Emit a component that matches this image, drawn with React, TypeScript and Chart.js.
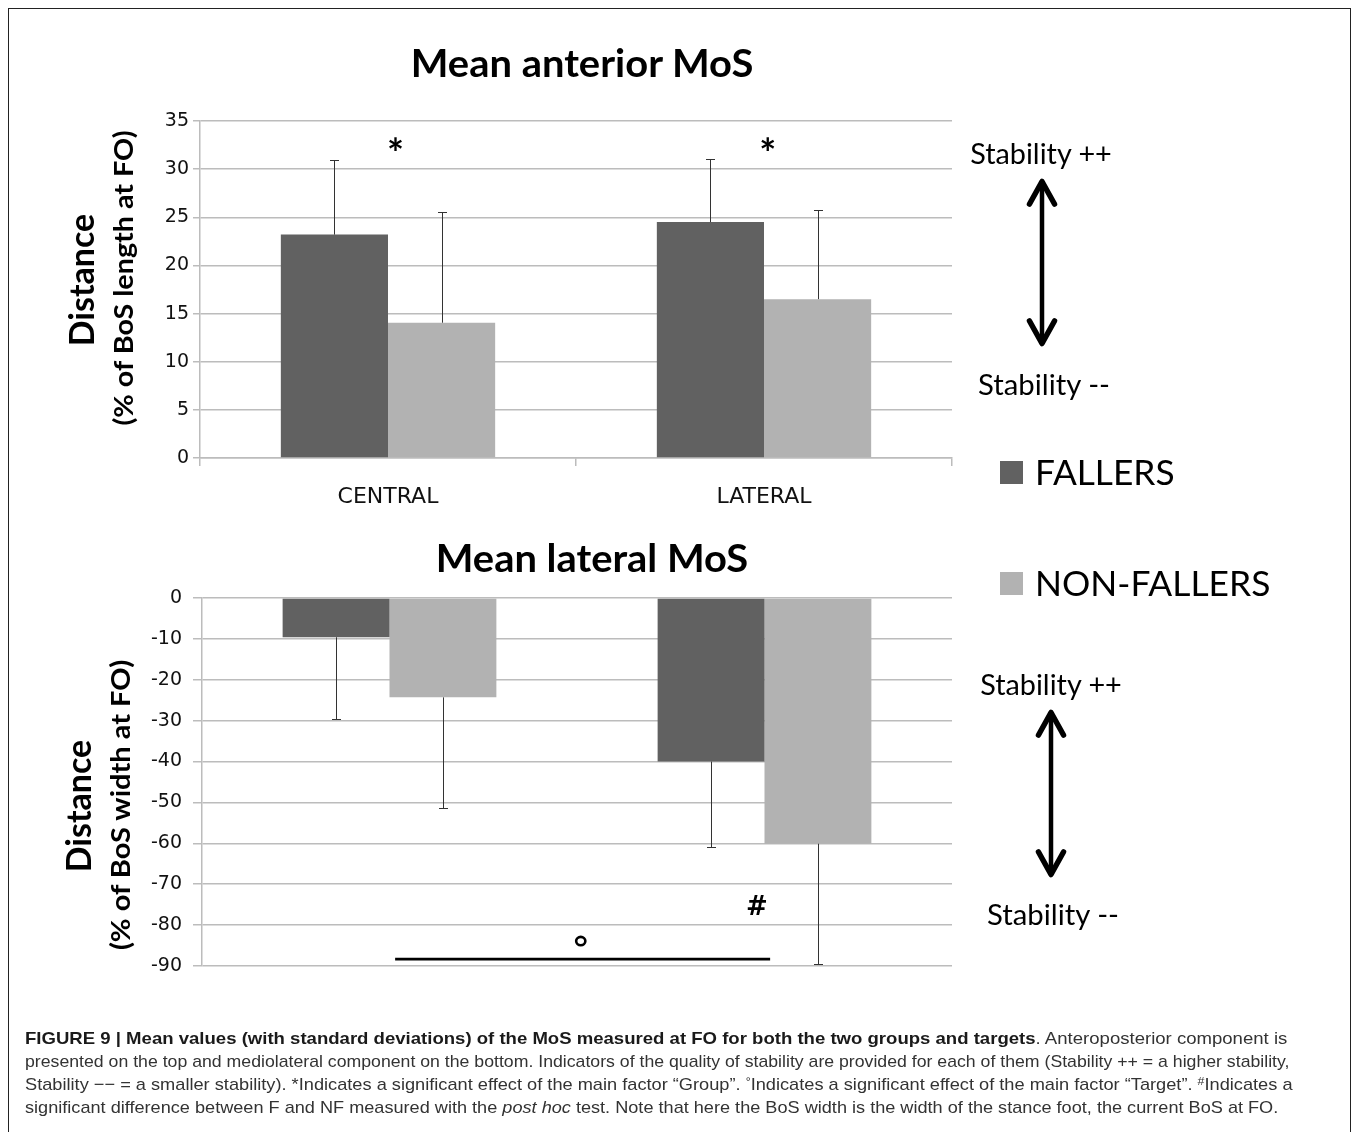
import React, { useEffect, useLayoutEffect, useRef } from "react";
import { Chart, registerables } from "chart.js";

Chart.register(...registerables);

// ---------------- data ----------------
const categories = ["CENTRAL", "LATERAL"];
const seriesLabels = ["FALLERS", "NON-FALLERS"];
const seriesColors = ["#616161", "#b2b2b2"];

const anteriorTitle = "Mean anterior MoS";
const anteriorAxisTitle = ["Distance", "(% of BoS length at FO)"];
const anteriorFallers = [23.2, 24.5];
const anteriorFallersSD = [7.7, 6.6];
const anteriorNonFallers = [14.05, 16.5];
const anteriorNonFallersSD = [11.45, 9.3];
const anteriorTicks = [0, 5, 10, 15, 20, 25, 30, 35];

const lateralTitle = "Mean lateral MoS";
const lateralAxisTitle = ["Distance", "(% of BoS width at FO)"];
const lateralFallers = [-9.6, -40.0];
const lateralFallersSD = [20.1, 20.8];
const lateralNonFallers = [-24.3, -60.1];
const lateralNonFallersSD = [27.0, 29.4];
const lateralTicks = [0, -10, -20, -30, -40, -50, -60, -70, -80, -90];

// significance marks (x = category index, y = axis value)
const anteriorMarks = [
  { text: "*", x: 0.02, y: 32.6 },
  { text: "*", x: 1.01, y: 32.6 },
];
const lateralMarks = [{ text: "#", x: 0.98, y: -75.1 }];
const lateralRing = { x: 0.51, y: -83.9 };
const lateralBracket = { from: 0.015, to: 1.015, y: -88.3 };

const stabilityLabels = ["Stability ++", "Stability --"];

// ---------------- helpers ----------------
type FitProps = {
  x: number;
  y: number;
  w?: number;
  align?: "center" | "left";
  rot?: boolean;
  style?: React.CSSProperties;
  children: React.ReactNode;
};

function FitText({ x, y, w, align = "center", rot = false, style, children }: FitProps) {
  const ref = useRef<HTMLDivElement>(null);
  useLayoutEffect(() => {
    const el = ref.current;
    if (!el) return;
    const natural = el.offsetWidth;
    const s = w && natural ? w / natural : 1;
    const base = align === "center" ? "translate(-50%,-50%)" : "translate(0,-50%)";
    el.style.transform = `${base}${rot ? " rotate(-90deg)" : ""} scaleX(${s})`;
    el.style.visibility = "visible";
  }, [w, align, rot]);
  return (
    <div
      ref={ref}
      style={{
        position: "absolute",
        left: x,
        top: y,
        whiteSpace: "nowrap",
        lineHeight: 1,
        transformOrigin: align === "center" ? "50% 50%" : "0 50%",
        visibility: "hidden",
        color: "#000",
        ...style,
      }}
    >
      {children}
    </div>
  );
}

type Mark = { text: string; x: number; y: number };

type ChartSpec = {
  top: number;
  height: number;
  plotLeft: number;
  plotRight: number;
  plotTop: number;
  plotBottom: number;
  fallers: number[];
  fallersSD: number[];
  nonFallers: number[];
  nonFallersSD: number[];
  ticks: number[];
  showCategories: boolean;
  tickLen: number;
  tickPad: number;
  marks: Mark[];
  markFont: string;
  ring?: { x: number; y: number };
  bracket?: { from: number; to: number; y: number };
};

const W = 1354;
const GRID = "#bcbcbc";

function BarPanel(spec: ChartSpec) {
  const ref = useRef<HTMLCanvasElement>(null);
  useEffect(() => {
    const canvas = ref.current;
    if (!canvas) return;
    const sds = [spec.fallersSD, spec.nonFallersSD];

    const errorBars = {
      id: "errorBars",
      afterDatasetsDraw(chart: any) {
        const ctx = chart.ctx;
        const ys = chart.scales.y;
        ctx.save();
        ctx.strokeStyle = "#333";
        ctx.lineWidth = 1;
        chart.data.datasets.forEach((ds: any, i: number) => {
          const meta = chart.getDatasetMeta(i);
          meta.data.forEach((bar: any, j: number) => {
            const v = ds.data[j] as number;
            const end = v + Math.sign(v) * sds[i][j];
            const px = Math.round(bar.x) + 0.5;
            const y0 = ys.getPixelForValue(v);
            const y1 = Math.round(ys.getPixelForValue(end)) + 0.5;
            ctx.beginPath();
            ctx.moveTo(px, y0);
            ctx.lineTo(px, y1);
            ctx.moveTo(px - 4.5, y1);
            ctx.lineTo(px + 4.5, y1);
            ctx.stroke();
          });
        });
        ctx.restore();
      },
    };

    const annotations = {
      id: "annotations",
      afterDraw(chart: any) {
        const { ctx } = chart;
        const xs = chart.scales.x;
        const ys = chart.scales.y;
        ctx.save();
        ctx.fillStyle = "#000";
        ctx.strokeStyle = "#000";
        ctx.textAlign = "left";
        ctx.textBaseline = "alphabetic";
        ctx.font = spec.markFont;
        spec.marks.forEach((m) => {
          const px = xs.getPixelForValue(m.x);
          const py = ys.getPixelForValue(m.y);
          const mt = ctx.measureText(m.text);
          const w = mt.actualBoundingBoxLeft + mt.actualBoundingBoxRight;
          const h = mt.actualBoundingBoxAscent + mt.actualBoundingBoxDescent;
          ctx.fillText(m.text, px - w / 2 + mt.actualBoundingBoxLeft, py + h / 2 - mt.actualBoundingBoxDescent);
        });
        if (spec.ring) {
          const px = xs.getPixelForValue(spec.ring.x);
          const py = ys.getPixelForValue(spec.ring.y);
          ctx.lineWidth = 2.6;
          ctx.beginPath();
          ctx.ellipse(px, py, 4.6, 4.2, 0, 0, Math.PI * 2);
          ctx.stroke();
        }
        if (spec.bracket) {
          const x0 = xs.getPixelForValue(spec.bracket.from);
          const x1 = xs.getPixelForValue(spec.bracket.to);
          const py = ys.getPixelForValue(spec.bracket.y);
          ctx.lineWidth = 2.8;
          ctx.beginPath();
          ctx.moveTo(x0, py);
          ctx.lineTo(x1, py);
          ctx.stroke();
        }
        ctx.restore();
      },
    };

    const xAxisHeight = spec.top + spec.height - spec.plotBottom;
    const tickVals = spec.ticks;
    const chart = new Chart(canvas, {
      type: "bar",
      data: {
        labels: categories,
        datasets: [
          {
            label: seriesLabels[0],
            data: spec.fallers,
            backgroundColor: seriesColors[0],
            borderWidth: 0,
            categoryPercentage: 0.57,
            barPercentage: 1.0,
          },
          {
            label: seriesLabels[1],
            data: spec.nonFallers,
            backgroundColor: seriesColors[1],
            borderWidth: 0,
            categoryPercentage: 0.57,
            barPercentage: 1.0,
          },
        ],
      },
      options: {
        responsive: false,
        animation: false,
        devicePixelRatio: 1,
        layout: {
          padding: {
            left: 0,
            top: spec.plotTop - spec.top,
            right: W - spec.plotRight,
            bottom: spec.showCategories ? 0 : xAxisHeight,
          },
        },
        plugins: {
          legend: { display: false },
          title: { display: false },
          tooltip: { enabled: false },
        },
        scales: {
          x: {
            display: spec.showCategories,
            offset: true,
            grid: {
              display: true,
              drawOnChartArea: false,
              drawTicks: true,
              tickLength: 8,
              offset: true,
              color: GRID,
              lineWidth: 1.5,
            },
            border: { display: true, color: GRID, width: 1.5 },
            ticks: {
              color: "#111",
              font: { family: "'DejaVu Sans'", size: 22 },
              padding: 18,
              maxRotation: 0,
              autoSkip: false,
            },
            afterFit: (scale: any) => {
              if (spec.showCategories) scale.height = xAxisHeight;
            },
          },
          y: {
            min: Math.min(...tickVals),
            max: Math.max(...tickVals),
            afterBuildTicks: (scale: any) => {
              scale.ticks = [...tickVals].sort((a, b) => a - b).map((v) => ({ value: v }));
            },
            grid: {
              color: GRID,
              lineWidth: 1.5,
              drawTicks: true,
              tickLength: spec.tickLen,
            },
            border: { display: true, color: GRID, width: 1.5 },
            ticks: {
              color: "#111",
              font: { family: "'DejaVu Sans'", size: 19 },
              padding: spec.tickPad,
            },
            afterFit: (scale: any) => {
              scale.width = spec.plotLeft;
            },
          },
        },
      } as any,
      plugins: [errorBars, annotations],
    });
    return () => chart.destroy();
  }, []);
  return (
    <canvas
      ref={ref}
      width={W}
      height={spec.height}
      style={{ position: "absolute", left: 0, top: spec.top, width: W, height: spec.height }}
    />
  );
}

function Arrow({ x, y1, y2 }: { x: number; y1: number; y2: number }) {
  const hw = 12.5;
  const hl = 24;
  return (
    <g stroke="#000" fill="none" strokeLinecap="round" strokeLinejoin="round">
      <line x1={x} y1={y1 + 3} x2={x} y2={y2 - 3} strokeWidth={4.5} />
      <polyline points={`${x - hw},${y1 + hl} ${x},${y1 + 1.5} ${x + hw},${y1 + hl}`} strokeWidth={5.5} />
      <polyline points={`${x - hw},${y2 - hl} ${x},${y2 - 1.5} ${x + hw},${y2 - hl}`} strokeWidth={5.5} />
    </g>
  );
}

const titleFont: React.CSSProperties = { fontFamily: "Lato, 'Open Sans', sans-serif", fontWeight: 700 };
const lightFont: React.CSSProperties = { fontFamily: "Lato, 'Open Sans', sans-serif", fontWeight: 400 };
const capFont: React.CSSProperties = {
  fontFamily: "'Liberation Sans', Arial, sans-serif",
  fontSize: 17,
  color: "#333",
};
const supStyle: React.CSSProperties = { fontSize: "0.68em", position: "relative", top: "-0.42em" };

export default function App() {
  return (
    <div
      style={{
        position: "fixed",
        left: 0,
        top: 0,
        width: W,
        height: 1132,
        overflow: "hidden",
        background: "#fff",
      }}
    >
      <div
        style={{
          position: "absolute",
          left: 8,
          top: 8,
          width: 1343,
          height: 1140,
          border: "1px solid #222",
          boxSizing: "border-box",
        }}
      />

      <BarPanel
        top={0}
        height={520}
        plotLeft={200}
        plotRight={952}
        plotTop={121}
        plotBottom={458}
        fallers={anteriorFallers}
        fallersSD={anteriorFallersSD}
        nonFallers={anteriorNonFallers}
        nonFallersSD={anteriorNonFallersSD}
        ticks={anteriorTicks}
        showCategories={true}
        tickLen={7}
        tickPad={4}
        marks={anteriorMarks}
        markFont="bold 40px Lato"
      />
      <BarPanel
        top={500}
        height={500}
        plotLeft={202}
        plotRight={952}
        plotTop={598}
        plotBottom={966}
        fallers={lateralFallers}
        fallersSD={lateralFallersSD}
        nonFallers={lateralNonFallers}
        nonFallersSD={lateralNonFallersSD}
        ticks={lateralTicks}
        showCategories={false}
        tickLen={9}
        tickPad={11}
        marks={lateralMarks}
        markFont="600 26px 'DejaVu Sans'"
        ring={lateralRing}
        bracket={lateralBracket}
      />

      {/* chart titles */}
      <FitText x={582} y={62} w={343} style={{ ...titleFont, fontSize: 39 }}>
        {anteriorTitle}
      </FitText>
      <FitText x={592} y={557} w={312} style={{ ...titleFont, fontSize: 39 }}>
        {lateralTitle}
      </FitText>

      {/* y axis titles */}
      <FitText x={80} y={280} w={132} rot style={{ ...titleFont, fontSize: 35 }}>
        {anteriorAxisTitle[0]}
      </FitText>
      <FitText x={123} y={278} w={295} rot style={{ ...titleFont, fontSize: 26 }}>
        {anteriorAxisTitle[1]}
      </FitText>
      <FitText x={77} y={806} w={132} rot style={{ ...titleFont, fontSize: 35 }}>
        {lateralAxisTitle[0]}
      </FitText>
      <FitText x={120} y={805} w={290} rot style={{ ...titleFont, fontSize: 26 }}>
        {lateralAxisTitle[1]}
      </FitText>

      {/* stability indicators */}
      <FitText x={1041} y={153} w={142} style={{ ...lightFont, fontSize: 28 }}>
        {stabilityLabels[0]}
      </FitText>
      <FitText x={1044} y={384} w={132} style={{ ...lightFont, fontSize: 28 }}>
        {stabilityLabels[1]}
      </FitText>
      <FitText x={1051} y={684} w={142} style={{ ...lightFont, fontSize: 28 }}>
        {stabilityLabels[0]}
      </FitText>
      <FitText x={1053} y={914} w={132} style={{ ...lightFont, fontSize: 28 }}>
        {stabilityLabels[1]}
      </FitText>
      <svg
        width={W}
        height={1132}
        style={{ position: "absolute", left: 0, top: 0, pointerEvents: "none" }}
      >
        <Arrow x={1042} y1={180} y2={345} />
        <Arrow x={1051} y1={711} y2={876} />
      </svg>

      {/* legend */}
      <div style={{ position: "absolute", left: 1000, top: 461, width: 23, height: 23, background: seriesColors[0] }} />
      <div style={{ position: "absolute", left: 1000, top: 572, width: 23, height: 23, background: seriesColors[1] }} />
      <FitText x={1035} y={472} w={140} align="left" style={{ ...lightFont, fontSize: 34 }}>
        {seriesLabels[0]}
      </FitText>
      <FitText x={1035} y={583} w={235} align="left" style={{ ...lightFont, fontSize: 34 }}>
        {seriesLabels[1]}
      </FitText>

      {/* caption */}
      <FitText x={25} y={1038} w={1262} align="left" style={capFont}>
        <b style={{ color: "#1a1a1a" }}>
          FIGURE 9 | Mean values (with standard deviations) of the MoS measured at FO for both the two groups and targets
        </b>
        . Anteroposterior component is
      </FitText>
      <FitText x={25} y={1061} w={1264} align="left" style={capFont}>
        presented on the top and mediolateral component on the bottom. Indicators of the quality of stability are provided for each of them (Stability ++ = a higher stability,
      </FitText>
      <FitText x={25} y={1084} w={1268} align="left" style={capFont}>
        Stability −− = a smaller stability). *Indicates a significant effect of the main factor “Group”.{" "}
        <span style={supStyle}>°</span>Indicates a significant effect of the main factor “Target”.{" "}
        <span style={supStyle}>#</span>Indicates a
      </FitText>
      <FitText x={25} y={1107} w={1253} align="left" style={capFont}>
        significant difference between F and NF measured with the <i>post hoc</i> test. Note that here the BoS width is the width of the stance foot, the current BoS at FO.
      </FitText>
    </div>
  );
}
